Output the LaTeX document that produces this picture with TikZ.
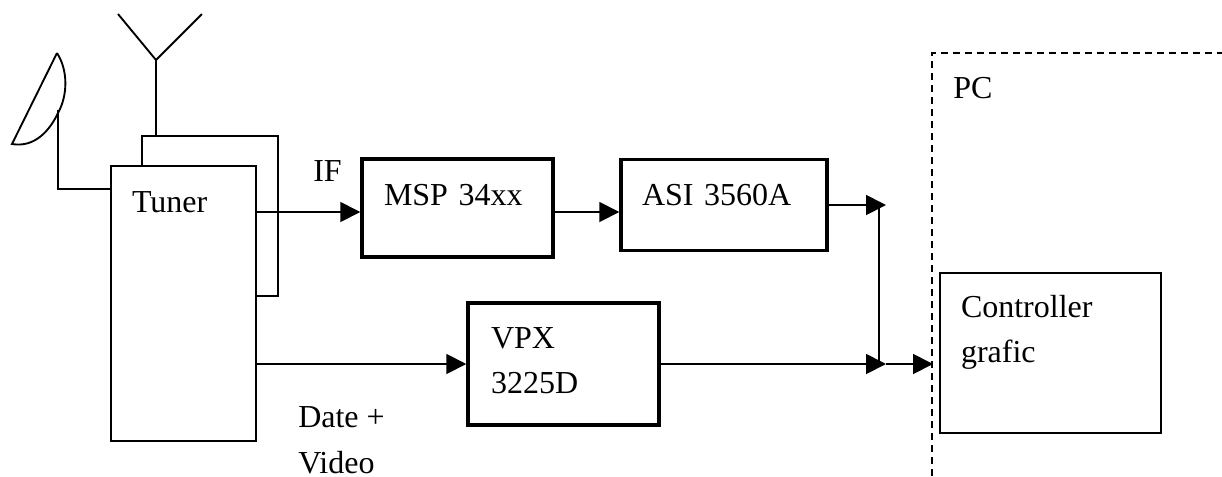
\documentclass[tikz,border=0pt]{standalone}
\usepackage{fontspec}
\setmainfont{Liberation Serif}
\usetikzlibrary{arrows.meta}

\begin{document}
\begin{tikzpicture}[
    x=0.75pt, y=-0.75pt,
    font=\fontsize{24}{34}\selectfont,
    wire/.style={draw=black, line width=1.4pt},
    link/.style={wire, -{Triangle[length=15pt,width=15pt]}},
    module/.style={rectangle, draw=black, fill=white, inner sep=0pt, align=left, line width=1.4pt},
    chip/.style={module, line width=2.6pt},
    caption/.style={anchor=base west, inner sep=0pt, align=left},
    pcline/.style={draw=black, line width=1.5pt, dash pattern=on 5.5pt off 3.5pt},
  ]
  \useasboundingbox (0,0) rectangle (1222,476);

  % Tuner, the rear box first
  \node[module, minimum width=102pt, minimum height=120pt] (tunerBack) at (210, 216) {};
  \node[module, inner xsep=15.75pt, text width=77.25pt, text height=34.5pt, text depth=171.75pt] (tuner) at (183.5, 303.5) {Tuner};

  % Antenna and dish
  \coordinate (antFeed) at (156, 60);
  \coordinate (dishFeed) at (58, 110);
  \draw[wire] (118, 14) -- (antFeed) -- (202, 14);
  \draw[wire] (antFeed) -- (antFeed |- tunerBack.north);
  \draw[wire] (57, 53) -- (12, 144) .. controls (35, 148) and (50, 130) .. (58, 113) .. controls (68, 95) and (68, 70) .. (57, 53);
  \draw[wire] (dishFeed) |- (tuner.west |- 0, 189);

  % Chips
  \node[chip, inner xsep=16.5pt, text width=110.25pt, text height=34.5pt, text depth=39pt] (msp) at (457.5, 208) {MSP 34xx};
  \node[chip, inner xsep=15.75pt, text width=123pt, text height=34.125pt, text depth=34.125pt] (asi) at (724, 205) {ASI 3560A};
  \node[chip, inner xsep=17.25pt, text width=108.75pt, text height=33.75pt, text depth=57.75pt] (vpx) at (563.5, 364) {VPX\\3225D};

  % PC
  \draw[pcline] (932, 476) |- (1222, 53);
  \node[module, inner xsep=15.75pt, text width=134.25pt, text height=33pt, text depth=87pt] (ctrl) at (1050.5, 353) {Controller\\grafic};

  % Labels
  \node[caption] (ifText) at (313, 181) {IF};
  \node[caption] (dataText) at (298, 473) {Date +\\Video};
  \node[caption] (pcText) at (953, 98) {PC};

  % Connectors
  \coordinate (ifLine) at (0, 212);
  \coordinate (joinA) at (886, 205);
  \coordinate (joinB) at (886, 364);
  \coordinate (pcIn) at (933, 364);
  \draw[link] (tuner.east |- ifLine) -- (msp.west |- ifLine);
  \draw[link] (msp.east |- ifLine) -- (asi.west |- ifLine);
  \draw[link] (asi.east) -- (joinA);
  \draw[link] (tuner.east |- vpx.west) -- (vpx.west);
  \draw[link] (vpx.east) -- (joinB);
  \draw[wire] (879, 205) -- (879, 364);
  \draw[link] (joinB) -- (pcIn);

\end{tikzpicture}
\end{document}
